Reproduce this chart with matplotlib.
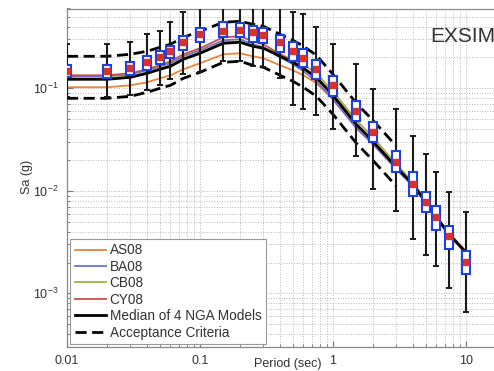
import numpy as np
import matplotlib
matplotlib.use("Agg")
import matplotlib.pyplot as plt
from matplotlib.ticker import NullFormatter, LogLocator

plt.rcParams['font.family'] = ['Liberation Sans', 'DejaVu Sans']
plt.rcParams['mathtext.fontset'] = 'custom'
plt.rcParams['mathtext.rm'] = 'Liberation Sans'
plt.rcParams['mathtext.it'] = 'Liberation Sans:italic'
plt.rcParams['mathtext.bf'] = 'Liberation Sans:bold'

# Spectral periods (s)
periods = [0.01, 0.02, 0.03, 0.04, 0.05, 0.06, 0.075, 0.1, 0.15, 0.2, 0.25, 0.3,
           0.4, 0.5, 0.6, 0.75, 1.0, 1.5, 2.0, 3.0, 4.0, 5.0, 6.0, 7.5, 10.0]

# NGA ground-motion model spectra, Sa (g)
as08 = [0.1023, 0.1023, 0.1070, 0.1144, 0.1252, 0.1339, 0.1532, 0.1753, 0.2146, 0.2195,
        0.2052, 0.1962, 0.1676, 0.1498, 0.1339, 0.1119, 0.0781, 0.0426, 0.0297, 0.0169,
        0.0113, 0.00755, 0.00539, 0.00368, 0.00246]
ba08 = [0.1309, 0.1309, 0.1369, 0.1498, 0.1639, 0.1753, 0.2052, 0.2348, 0.2939, 0.3006,
        0.2687, 0.2512, 0.2006, 0.1714, 0.1465, 0.1170, 0.0781, 0.0407, 0.0284, 0.0162,
        0.01106, 0.00755, 0.00539, 0.00368, 0.00246]
cb08 = [0.1252, 0.1252, 0.1309, 0.1432, 0.1567, 0.1676, 0.1962, 0.2245, 0.2810, 0.2873,
        0.2627, 0.2512, 0.2146, 0.1918, 0.1714, 0.1400, 0.0935, 0.0487, 0.0333, 0.0181,
        0.0121, 0.00808, 0.00564, 0.00385, 0.00257]
cy08 = [0.1339, 0.1339, 0.1400, 0.1532, 0.1676, 0.1834, 0.2146, 0.2456, 0.3144, 0.3216,
        0.2873, 0.2687, 0.2146, 0.1834, 0.1567, 0.1252, 0.0836, 0.0435, 0.0297, 0.0166,
        0.0113, 0.00755, 0.00539, 0.00368, 0.00246]
nga_median = [0.1224, 0.1224, 0.1280, 0.1400, 0.1532, 0.1639, 0.1918, 0.2195, 0.2748, 0.2810,
              0.2570, 0.2456, 0.2052, 0.1793, 0.1567, 0.1280, 0.0855, 0.0445, 0.0304, 0.0169,
              0.01157, 0.00772, 0.00551, 0.00376, 0.00251]

# Acceptance criteria band
crit_periods = [0.01, 0.02, 0.03, 0.04, 0.05, 0.06, 0.075, 0.1, 0.15, 0.2, 0.25, 0.3,
                0.4, 0.5, 0.6, 0.75, 1.0, 1.5, 2.0, 3.0]
crit_upper = [0.2052, 0.2052, 0.2146, 0.2296, 0.2512, 0.2687, 0.3144, 0.3598, 0.4405, 0.4504,
              0.4211, 0.4026, 0.3363, 0.2939, 0.2570, 0.2099, 0.1369, 0.0714, 0.0487, 0.0272]
crit_lower = [0.0799, 0.0799, 0.0836, 0.0914, 0.1000, 0.1070, 0.1252, 0.1432, 0.1793, 0.1834,
              0.1676, 0.1603, 0.1339, 0.1170, 0.1023, 0.0836, 0.0558, 0.0291, 0.0198, 0.01106]

# EXSIM simulation statistics (whisker low, Q1, median, Q3, whisker high)
sim_lo = [0.0817, 0.0817, 0.0855, 0.0956, 0.1070, 0.1224, 0.1369, 0.1432, 0.1834, 0.1834,
          0.1639, 0.1603, 0.1252, 0.0683, 0.0624, 0.0545, 0.0398, 0.0217, 0.01034, 0.00631,
          0.00336, 0.00235, 0.00183, 0.00114, 0.000653]
sim_q1 = [0.1280, 0.1252, 0.1339, 0.1498, 0.1714, 0.1962, 0.2348, 0.2810, 0.3144, 0.3144,
          0.2810, 0.2748, 0.2245, 0.1834, 0.1603, 0.1224, 0.0836, 0.0476, 0.0297, 0.0152,
          0.00884, 0.00617, 0.00412, 0.00269, 0.00153]
sim_med = [0.1465, 0.1465, 0.1567, 0.1793, 0.2006, 0.2296, 0.2810, 0.3363, 0.3598, 0.3680,
           0.3518, 0.3290, 0.2810, 0.2296, 0.1962, 0.1532, 0.1070, 0.0597, 0.0372, 0.0190,
           0.01157, 0.00772, 0.00551, 0.00360, 0.00201]
sim_q3 = [0.1676, 0.1676, 0.1793, 0.2052, 0.2296, 0.2570, 0.3216, 0.3848, 0.4405, 0.4306,
          0.4026, 0.3848, 0.3290, 0.2810, 0.2402, 0.1876, 0.1309, 0.0747, 0.0466, 0.0243,
          0.0152, 0.00967, 0.00706, 0.00450, 0.00257]
sim_hi = [0.2687, 0.2687, 0.2810, 0.3363, 0.3598, 0.4405, 0.5513, 0.70, 0.72, 0.74,
          0.65, 0.65, 0.63, 0.5513, 0.527, 0.3936, 0.2687, 0.1714, 0.0978, 0.0624,
          0.0340, 0.0227, 0.0152, 0.00967, 0.00617]

fig = plt.figure(figsize=(4.94, 3.71), dpi=100)
ax = fig.add_axes([67 / 494, 24 / 371, 439 / 494, 338.5 / 371])
ax.set_xscale('log')
ax.set_yscale('log')
ax.set_xlim(0.01, 20)
ax.set_ylim(3e-4, 0.6)

ax.grid(True, which='both', ls=':', color='#b8b8b8', lw=0.7)
ax.set_axisbelow(True)

dash = (0, (4, 2))
model_styles = [(as08, '#e8843c', 'AS08'), (ba08, '#7070d0', 'BA08'),
                (cb08, '#a3ad42', 'CB08'), (cy08, '#c4514e', 'CY08')]
for vals, col, lab in model_styles:
    ax.plot(periods, vals, color=col, lw=1.3, label=lab, zorder=2)
ax.plot(periods, nga_median, color='black', lw=2.0, label='Median of 4 NGA Models', zorder=3)
ax.plot(crit_periods, crit_upper, color='black', lw=2.0, ls=dash,
        label='Acceptance Criteria', zorder=3)
ax.plot(crit_periods, crit_lower, color='black', lw=2.0, ls=dash, zorder=3)

# whiskers with short caps
p = np.array(periods)
ax.vlines(p, sim_lo, sim_hi, color='#1a1a1a', lw=1.5, zorder=4)
ax.plot(p, sim_hi, ls='none', marker='_', ms=4, mew=1.4, color='#1a1a1a', zorder=4)
ax.plot(p, sim_lo, ls='none', marker='_', ms=4, mew=1.4, color='#1a1a1a', zorder=4)

# interquartile boxes of constant on-screen width
half = 10 ** 0.03
left = p / half
width = p * half - left
q1 = np.array(sim_q1)
q3 = np.array(sim_q3)
ax.bar(left, q3 - q1, bottom=q1, width=width, align='edge', facecolor='white',
       edgecolor='#1d3fe6', lw=1.5, zorder=5)
ax.plot(p, sim_med, ls='none', marker='s', ms=4.5, color='#d8322c', mec='#d8322c', zorder=6)

ax.set_xticks([0.01, 0.1, 1, 10])
ax.set_xticklabels(['0.01', '0.1', '1', '10'])
ax.xaxis.set_minor_locator(LogLocator(base=10, subs=np.arange(2, 10)))
ax.xaxis.set_minor_formatter(NullFormatter())
ax.yaxis.set_major_locator(LogLocator(base=10, numticks=10))
ax.yaxis.set_minor_locator(LogLocator(base=10, subs=np.arange(2, 10), numticks=20))
ax.yaxis.set_minor_formatter(NullFormatter())
ax.tick_params(which='both', direction='in', colors='#777777', labelcolor='#333333',
               labelsize=9, top=False, right=False)
ax.tick_params(which='major', length=4, pad=6)
ax.tick_params(which='minor', length=2)
for s in ['left', 'bottom', 'top']:
    ax.spines[s].set_color('#888888')
    ax.spines[s].set_linewidth(0.9)
ax.spines['right'].set_visible(False)

fig.text(288 / 494, 1 - 364 / 371, 'Period (sec)', fontsize=9, color='#333333',
         ha='center', va='center')
fig.text(27 / 494, 1 - 177 / 371, 'Sa (g)', fontsize=9, color='#333333',
         ha='center', va='center', rotation=90)

leg = ax.legend(loc='lower left', bbox_to_anchor=(0.007, 0.008), borderaxespad=0,
                fontsize=9.8, handlelength=2.3, handletextpad=0.25, labelspacing=0.18,
                borderpad=0.35, fancybox=False, framealpha=1, edgecolor='#999999')
for t in leg.get_texts():
    t.set_color('#333333')
leg.get_frame().set_linewidth(0.8)

fig.text(430 / 494, 1 - 37 / 371, 'EXSIM', fontsize=15, color='#333333',
         ha='left', va='center')

fig.savefig('out.png', dpi=100)
